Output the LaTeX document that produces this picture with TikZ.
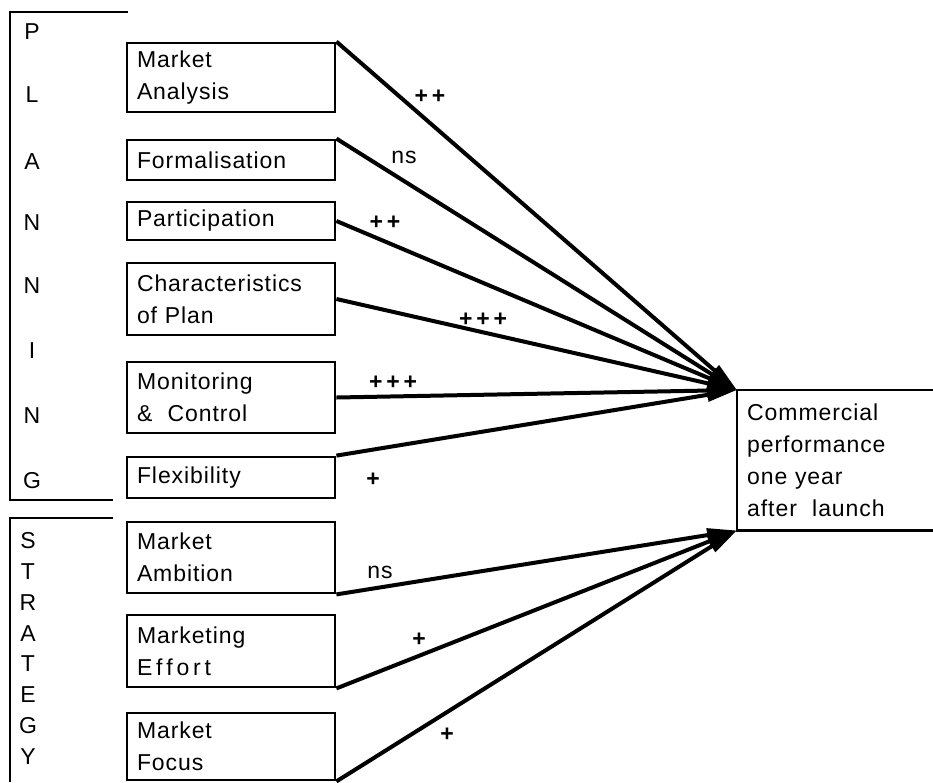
\documentclass[tikz,border=0pt]{standalone}
\usepackage{fontspec}
\setmainfont{Liberation Sans}[LetterSpace=4]
\usetikzlibrary{arrows.meta}
\begin{document}
\begin{tikzpicture}[x=1pt,y=-1pt,
  txt/.style={font=\fontsize{23}{32}\selectfont},
  box/.style={txt, draw, line width=2.8pt, minimum width=208pt, text width=188pt,
    inner xsep=10pt, inner ysep=0pt, align=left},
  conn/.style={line width=4pt, -{Triangle[length=30pt,width=13pt]}},
  bracket/.style={line width=2.8pt},
  letter/.style={txt, anchor=center, inner sep=0pt},
  sign/.style={txt, inner sep=0pt, font=\fontsize{23}{24}\selectfont\bfseries}]
\useasboundingbox (0,0) rectangle (933,782);

% group brackets
\draw[bracket] (128,12) -- (10,12) -- (10,500) -- (113,500);
\draw[bracket] (113,518) -- (10,518) -- (10,782);

% PLANNING
\node[letter] (p1) at (32,32)  {P};
\node[letter] (p2) at (32,95)  {L};
\node[letter] (p3) at (32,162) {A};
\node[letter] (p4) at (32,223) {N};
\node[letter] (p5) at (32,286) {N};
\node[letter] (p6) at (32,351) {I};
\node[letter] (p7) at (32,416) {N};
\node[letter] (p8) at (32,481) {G};

% STRATEGY
\node[letter] (s1) at (28,541) {S};
\node[letter] (s2) at (28,572) {T};
\node[letter] (s3) at (28,603) {R};
\node[letter] (s4) at (28,634) {A};
\node[letter] (s5) at (28,664) {T};
\node[letter] (s6) at (28,695) {E};
\node[letter] (s7) at (28,726) {G};
\node[letter] (s8) at (28,757) {Y};

% factor boxes
\node[box, minimum height=69pt] (ma) at (231,77.5) {Market\\Analysis};
\node[box, minimum height=40pt] (fo) at (231,160)  {Formalisation};
\node[box, minimum height=38pt] (pa) at (231,221)  {Participation};
\node[box, minimum height=72pt] (ch) at (231,299)  {Characteristics\\of Plan};
\node[box, minimum height=71pt] (mo) at (231,397.5) {Monitoring\\\&~ Control};
\node[box, minimum height=41pt] (fl) at (231,477.5) {Flexibility};
\node[box, minimum height=71pt] (am) at (231,557.5) {Market\\Ambition};
\node[box, minimum height=72pt] (ef) at (231,651)  {Marketing\\E\,f\,f\,o\,r\,t};
\node[box, minimum height=67pt] (fc) at (231,746.5) {Market\\Focus};

% outcome
\node[txt, text width=176pt, inner xsep=10pt, inner ysep=0pt, minimum height=140pt,
  anchor=north west, align=left] (perf) at (737,390)
  {Commercial\\performance\\one year\\after~ launch};
\draw[line width=2.8pt] (perf.north east) -- (perf.north west) -- (perf.south west) -- (perf.south east);

% effects
\draw[conn] (ma.north east) -- (perf.north west);
\draw[conn] (fo.north east) -- (perf.north west);
\draw[conn] (pa.east) -- (perf.north west);
\draw[conn] (ch.east) -- (perf.north west);
\draw[conn] (mo.east) -- (perf.north west);
\draw[conn] (fl.north east) -- (perf.north west);
\draw[conn] (am.south east) -- (perf.south west);
\draw[conn] (ef.south east) -- (perf.south west);
\draw[conn] (fc.south east) -- (perf.south west);

% significance labels
\node[sign] (e1) at (430,97)  {+\,+};
\node[txt, inner sep=0pt] (e2) at (404,157) {ns};
\node[sign] (e3) at (385,223) {+\,+};
\node[sign] (e4) at (483,320) {+\,+\,+};
\node[sign] (e5) at (393,383) {+\,+\,+};
\node[sign] (e6) at (373,480) {+};
\node[txt, inner sep=0pt] (e7) at (380,572) {ns};
\node[sign] (e8) at (419,640) {+};
\node[sign] (e9) at (447,735) {+};
\end{tikzpicture}
\end{document}
